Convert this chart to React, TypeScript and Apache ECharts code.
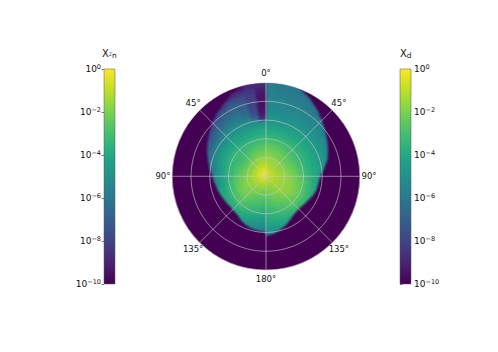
import React, { useEffect, useRef } from "react";
import * as echarts from "echarts";

const viridis = ["#440154", "#482475", "#414487", "#355f8d", "#2a788e", "#21918c", "#22a884", "#44bf70", "#7ad151", "#bddf26", "#fde725"];
const colorbarTicks = [-10, -8, -6, -4, -2, 0];
const angleTicks = [0, 45, 90, 135, 180, 225, 270, 315];
const angleStep = 7.5;
const radiusStep = 0.05;
const ringFractions = 5;

// Outer radius of the filled region per 7.5 degree row (top to bottom), fraction of disc radius
const xdEdge = [1.02, 1.02, 1.02, 0.97, 0.92, 0.865, 0.815, 0.77, 0.73, 0.695, 0.65, 0.59, 0.56, 0.56, 0.545, 0.525, 0.505, 0.49, 0.49, 0.505, 0.54, 0.575, 0.6, 0.63];
const x2nEdge = [1.02, 1.02, 0.98, 0.92, 0.87, 0.83, 0.78, 0.73, 0.7, 0.65, 0.62, 0.58, 0.555, 0.54, 0.525, 0.515, 0.5, 0.495, 0.5, 0.515, 0.55, 0.57, 0.58, 0.59];

// log10 values, radial cells of width 0.05, one row per 7.5 degrees from the top
const xdLog = [
  [-0.8, -0.9, -1.2, -1.5, -1.8, -2.1, -2.4, -2.9, -3.4, -3.8, -4.2, -4.6, -4.8, -5.0, -5.2, -5.4, -5.5, -5.6, -5.7, -5.8],
  [-0.8, -0.9, -1.2, -1.5, -1.8, -2.1, -2.5, -2.9, -3.4, -3.8, -4.2, -4.6, -4.8, -5.1, -5.3, -5.4, -5.5, -5.6, -5.8, -5.9],
  [-0.8, -0.9, -1.3, -1.5, -1.8, -2.2, -2.5, -3.0, -3.4, -3.8, -4.2, -4.6, -4.9, -5.1, -5.3, -5.4, -5.6, -5.7, -5.9, -6.0],
  [-0.8, -0.9, -1.3, -1.6, -1.9, -2.2, -2.6, -3.0, -3.4, -3.8, -4.2, -4.5, -4.8, -5.0, -5.2, -5.4, -5.6, -5.8, -6.0, -6.2],
  [-0.8, -1.0, -1.3, -1.6, -1.9, -2.3, -2.6, -3.0, -3.4, -3.8, -4.1, -4.4, -4.7, -5.0, -5.2, -5.4, -5.7, -5.9, -6.2],
  [-0.8, -1.0, -1.3, -1.6, -2.0, -2.3, -2.7, -3.0, -3.4, -3.7, -4.0, -4.4, -4.7, -5.0, -5.2, -5.4, -5.7, -6.0],
  [-0.9, -1.0, -1.4, -1.7, -2.0, -2.4, -2.7, -3.0, -3.4, -3.7, -4.0, -4.3, -4.6, -4.9, -5.2, -5.5, -5.8],
  [-0.9, -1.0, -1.4, -1.7, -2.0, -2.4, -2.8, -3.1, -3.4, -3.7, -4.0, -4.3, -4.6, -4.9, -5.2, -5.6],
  [-0.9, -1.0, -1.4, -1.7, -2.0, -2.3, -2.7, -3.1, -3.4, -3.7, -4.0, -4.3, -4.6, -4.9, -5.3],
  [-0.9, -1.0, -1.4, -1.6, -1.9, -2.2, -2.6, -3.0, -3.4, -3.7, -4.0, -4.3, -4.6, -5.0],
  [-0.9, -1.0, -1.3, -1.6, -1.8, -2.1, -2.5, -2.9, -3.3, -3.7, -4.0, -4.3, -4.7],
  [-0.9, -1.0, -1.3, -1.5, -1.7, -2.0, -2.3, -2.7, -3.2, -3.6, -4.0, -4.4],
  [-0.9, -1.0, -1.3, -1.5, -1.7, -1.9, -2.2, -2.6, -3.1, -3.6, -4.1],
  [-0.9, -1.1, -1.3, -1.5, -1.6, -1.8, -2.1, -2.4, -2.9, -3.4, -3.9],
  [-0.9, -1.1, -1.3, -1.5, -1.6, -1.7, -2.0, -2.3, -2.8, -3.3, -3.7],
  [-1.0, -1.1, -1.3, -1.5, -1.6, -1.7, -1.9, -2.2, -2.7, -3.2, -3.6],
  [-1.0, -1.1, -1.4, -1.5, -1.6, -1.7, -1.9, -2.2, -2.7, -3.2, -3.6],
  [-1.0, -1.1, -1.4, -1.5, -1.6, -1.7, -2.0, -2.3, -2.7, -3.2, -3.6],
  [-1.0, -1.2, -1.4, -1.6, -1.7, -1.9, -2.2, -2.5, -2.8, -3.2, -3.6],
  [-1.0, -1.2, -1.5, -1.7, -1.9, -2.1, -2.4, -2.7, -3.0, -3.4, -3.8],
  [-1.0, -1.2, -1.6, -1.8, -2.0, -2.3, -2.6, -2.9, -3.2, -3.6, -4.0, -4.4],
  [-1.0, -1.3, -1.6, -1.9, -2.1, -2.4, -2.7, -3.0, -3.3, -3.7, -4.1, -4.5],
  [-1.0, -1.3, -1.7, -2.0, -2.3, -2.6, -2.9, -3.2, -3.5, -3.8, -4.2, -4.7, -5.2],
  [-1.1, -1.3, -1.7, -2.1, -2.4, -2.7, -3.0, -3.3, -3.6, -3.9, -4.3, -4.8, -5.3],
];

const x2nLog = [
  [-0.2, -0.5, -1.0, -1.5, -1.9, -2.3, -2.7, -3.1, -3.5, -3.8, -4.2, -5.0, -8.6, -9.3, -9.5, -9.5, -9.5, -9.4, -9.2, -8.8],
  [-0.2, -0.5, -1.0, -1.5, -1.9, -2.3, -2.7, -3.1, -3.5, -3.9, -4.3, -5.0, -6.4, -7.4, -7.8, -8.0, -8.1, -8.2, -8.4, -8.8],
  [-0.2, -0.5, -1.0, -1.5, -1.9, -2.3, -2.7, -3.2, -3.6, -4.0, -4.4, -4.9, -5.5, -6.2, -6.7, -7.0, -7.3, -7.7, -8.5, -9.2],
  [-0.2, -0.5, -1.0, -1.5, -1.9, -2.4, -2.8, -3.2, -3.6, -4.0, -4.4, -4.8, -5.3, -5.8, -6.2, -6.6, -7.0, -7.6, -8.6],
  [-0.2, -0.5, -1.0, -1.5, -2.0, -2.5, -2.9, -3.3, -3.6, -4.0, -4.4, -4.8, -5.3, -5.8, -6.3, -6.8, -7.4, -8.2],
  [-0.2, -0.5, -1.0, -1.6, -2.1, -2.6, -3.0, -3.3, -3.6, -4.0, -4.4, -4.8, -5.2, -5.9, -6.6, -7.2, -7.8],
  [-0.2, -0.5, -1.1, -1.7, -2.2, -2.7, -3.1, -3.3, -3.6, -4.0, -4.5, -4.9, -5.5, -6.3, -7.0, -7.7],
  [-0.2, -0.6, -1.1, -1.8, -2.3, -2.8, -3.2, -3.2, -3.5, -4.0, -4.5, -5.0, -5.7, -6.6, -7.3],
  [-0.2, -0.6, -1.1, -1.8, -2.3, -2.8, -3.1, -3.3, -3.5, -4.0, -4.5, -5.1, -5.9, -6.8],
  [-0.2, -0.6, -1.1, -1.7, -2.2, -2.6, -3.0, -3.3, -3.6, -4.1, -4.6, -5.3, -6.2],
  [-0.2, -0.6, -1.1, -1.7, -2.1, -2.5, -2.9, -3.3, -3.7, -4.2, -4.8, -5.5],
  [-0.2, -0.6, -1.1, -1.6, -2.0, -2.4, -2.8, -3.3, -3.7, -4.3, -5.0, -5.7],
  [-0.3, -0.6, -1.1, -1.6, -1.9, -2.3, -2.8, -3.3, -3.8, -4.3, -5.1],
  [-0.3, -0.7, -1.1, -1.6, -1.9, -2.2, -2.6, -3.1, -3.7, -4.3, -4.9],
  [-0.3, -0.7, -1.2, -1.6, -1.8, -2.1, -2.5, -3.0, -3.5, -4.1],
  [-0.4, -0.8, -1.2, -1.6, -1.8, -2.0, -2.3, -2.8, -3.4, -3.9],
  [-0.4, -0.8, -1.3, -1.6, -1.8, -2.0, -2.3, -2.8, -3.3, -3.8],
  [-0.5, -0.9, -1.3, -1.7, -1.9, -2.0, -2.3, -2.7, -3.2, -3.7],
  [-0.5, -0.9, -1.4, -1.8, -2.0, -2.2, -2.4, -2.8, -3.2, -3.7],
  [-0.6, -1.0, -1.5, -1.9, -2.1, -2.4, -2.7, -3.0, -3.4, -3.8, -4.2],
  [-0.6, -1.0, -1.5, -1.9, -2.3, -2.6, -2.9, -3.2, -3.6, -4.0, -4.5],
  [-0.6, -1.1, -1.6, -2.0, -2.4, -2.7, -3.0, -3.4, -3.8, -4.2, -4.7],
  [-0.6, -1.1, -1.6, -2.1, -2.5, -2.8, -3.1, -3.5, -3.9, -4.4, -4.9, -5.3],
  [-0.7, -1.1, -1.7, -2.2, -2.6, -2.9, -3.3, -3.7, -4.1, -4.6, -5.0, -5.4],
];

const DISC = { x: 266, y: 176.3, r: 93.7 };

function hexToRgb(h: string) {
  return [parseInt(h.slice(1, 3), 16), parseInt(h.slice(3, 5), 16), parseInt(h.slice(5, 7), 16)];
}
function colorOf(e: number) {
  const t = Math.min(1, Math.max(0, (e + 10) / 10)) * (viridis.length - 1);
  const i = Math.min(viridis.length - 2, Math.floor(t));
  const a = hexToRgb(viridis[i]);
  const b = hexToRgb(viridis[i + 1]);
  const f = t - i;
  return `rgb(${a.map((v, k) => Math.round(v + (b[k] - v) * f)).join(",")})`;
}

// Each cell: [r0, r1, angle0, angle1, log10 value, outline radius at angle0, outline radius at angle1]
function cells(rows: number[][], edges: number[], side: 1 | -1) {
  const out: number[][] = [];
  rows.forEach((row, i) => {
    const a = i * angleStep;
    const b = a + angleStep;
    const eA = i === 0 ? edges[0] : (edges[i - 1] + edges[i]) / 2;
    const eB = i === edges.length - 1 ? edges[i] : (edges[i] + edges[i + 1]) / 2;
    const top = Math.max(eA, eB);
    for (let j = 0; j * radiusStep < top; j++) {
      const v = row[Math.min(j, row.length - 1)];
      out.push([j * radiusStep, (j + 1) * radiusStep, side * a, side * b, v, eA, eB]);
    }
  });
  return out;
}

function renderCell(_params: any, api: any) {
  const r0 = api.value(0);
  const r1 = api.value(1);
  const a0 = (api.value(2) + 360) % 360;
  const a1 = (api.value(3) + 360) % 360;
  const eA = api.value(5);
  const eB = api.value(6);
  const color = colorOf(api.value(4));
  return {
    type: "polygon",
    shape: {
      points: [
        api.coord([Math.min(r0, eA), a0]),
        api.coord([Math.min(r0, eB), a1]),
        api.coord([Math.min(r1, eB), a1]),
        api.coord([Math.min(r1, eA), a0]),
      ],
    },
    style: { fill: color, stroke: color, lineWidth: 0.8 },
  };
}

function renderAngleLabel(_params: any, api: any) {
  const deg = api.value(1);
  const p = api.coord([api.value(0), deg]);
  return {
    type: "text",
    style: {
      x: p[0],
      y: p[1],
      text: `${deg > 180 ? 360 - deg : deg}°`,
      align: "center",
      verticalAlign: "middle",
      fontFamily: "DejaVu Sans",
      fontSize: 8.5,
      fill: "#111",
    },
  };
}

function renderBar(_params: any, api: any) {
  const a = api.coord([0, -10]);
  const b = api.coord([1, 0]);
  return {
    type: "rect",
    shape: { x: a[0], y: b[1], width: b[0] - a[0], height: a[1] - b[1] },
    style: {
      fill: new echarts.graphic.LinearGradient(
        0, 1, 0, 0,
        viridis.map((c, i) => ({ offset: i / (viridis.length - 1), color: c }))
      ),
      stroke: "#555",
      lineWidth: 0.5,
    },
  };
}

const tickRich = {
  b: { fontFamily: "DejaVu Sans", fontSize: 9, color: "#111" },
  s: { fontFamily: "DejaVu Sans", fontSize: 6.5, color: "#111", verticalAlign: "bottom", padding: [0, 0, 5, 0] },
};
const tickText = (v: number) => `{b|10}{s|${v < 0 ? "\u2212" + -v : v}}`;

const polarOption = { center: [DISC.x, DISC.y], radius: DISC.r };
const radiusBase = { min: 0, max: 1, interval: 1 / ringFractions, axisLine: { show: false }, axisTick: { show: false }, axisLabel: { show: false } };
const angleBase = { min: 0, max: 360, interval: 45, startAngle: 90, clockwise: true, axisLine: { show: false }, axisTick: { show: false }, axisLabel: { show: false } };

export default function App() {
  const heatRef = useRef<HTMLDivElement>(null);
  const ref = useRef<HTMLDivElement>(null);
  useEffect(() => {
    const heat = echarts.init(heatRef.current!, null, { renderer: "svg" });
    heat.setOption({
      animation: false,
      polar: polarOption,
      radiusAxis: { ...radiusBase, splitLine: { show: false } },
      angleAxis: { ...angleBase, splitLine: { show: false } },
      series: [
        { type: "custom", name: "Xd", coordinateSystem: "polar", renderItem: renderCell, data: cells(xdLog, xdEdge, 1), clip: false, silent: true },
        { type: "custom", name: "X2n", coordinateSystem: "polar", renderItem: renderCell, data: cells(x2nLog, x2nEdge, -1), clip: false, silent: true },
      ],
    });

    const chart = echarts.init(ref.current!, null, { renderer: "svg" });
    const colorAxis = (gridIndex: number, position: string) => ({
      type: "value",
      gridIndex,
      position,
      min: -10,
      max: 0,
      interval: 2,
      splitLine: { show: false },
      axisLine: { show: false },
      axisTick: { show: true, length: 2.5, lineStyle: { color: "#222", width: 0.6 } },
      axisLabel: { margin: 3, formatter: tickText, rich: tickRich },
    });
    const colorX = (gridIndex: number) => ({ type: "value", gridIndex, min: 0, max: 1, show: false });
    const titleText = { fontFamily: "DejaVu Sans", fontSize: 10, fontWeight: "normal", color: "#111" };
    const titleSub = { fontFamily: "DejaVu Sans", fontSize: 7.5, fontWeight: "normal", color: "#111", padding: [3, 0, 0, 0] };
    chart.setOption({
      animation: false,
      title: [
        {
          text: "{x|X}{a|2}{b|n}",
          left: 97,
          top: 43,
          textStyle: {
            fontWeight: "normal",
            rich: { x: titleText, a: { ...titleText, fontSize: 5, color: "#555" }, b: titleSub },
          },
        },
        {
          text: "{x|X}{b|d}",
          left: 395,
          top: 43,
          textStyle: { fontWeight: "normal", rich: { x: titleText, b: titleSub } },
        },
      ],
      grid: [
        { left: 104, width: 11, top: 69, height: 215 },
        { left: 400, width: 11, top: 69, height: 215 },
      ],
      xAxis: [colorX(0), colorX(1)],
      yAxis: [colorAxis(0, "left"), colorAxis(1, "right")],
      polar: polarOption,
      radiusAxis: { ...radiusBase, splitLine: { show: true, lineStyle: { color: "rgba(205,205,205,0.75)", width: 0.8 } } },
      angleAxis: { ...angleBase, splitLine: { show: true, lineStyle: { color: "rgba(205,205,205,0.75)", width: 0.8 } } },
      series: [
        { type: "custom", name: "angle labels", coordinateSystem: "polar", renderItem: renderAngleLabel, data: angleTicks.map((a) => [1.1, a]), clip: false, silent: true },
        { type: "custom", coordinateSystem: "cartesian2d", xAxisIndex: 0, yAxisIndex: 0, renderItem: renderBar, data: [[0, colorbarTicks[0]]], silent: true },
        { type: "custom", coordinateSystem: "cartesian2d", xAxisIndex: 1, yAxisIndex: 1, renderItem: renderBar, data: [[0, colorbarTicks[0]]], silent: true },
      ],
    });
    return () => {
      chart.dispose();
      heat.dispose();
    };
  }, []);
  return (
    <div style={{ position: "absolute", left: 0, top: 0, width: 498, height: 352, background: "#fff" }}>
      <div
        style={{
          position: "absolute",
          left: DISC.x - DISC.r,
          top: DISC.y - DISC.r,
          width: DISC.r * 2,
          height: DISC.r * 2,
          borderRadius: "50%",
          overflow: "hidden",
          background: viridis[0],
        }}
      >
        <div
          ref={heatRef}
          style={{
            position: "absolute",
            left: -(DISC.x - DISC.r),
            top: -(DISC.y - DISC.r),
            width: 498,
            height: 352,
            filter: "blur(1.1px)",
          }}
        />
      </div>
      <div ref={ref} style={{ position: "absolute", left: 0, top: 0, width: 498, height: 352 }} />
    </div>
  );
}
